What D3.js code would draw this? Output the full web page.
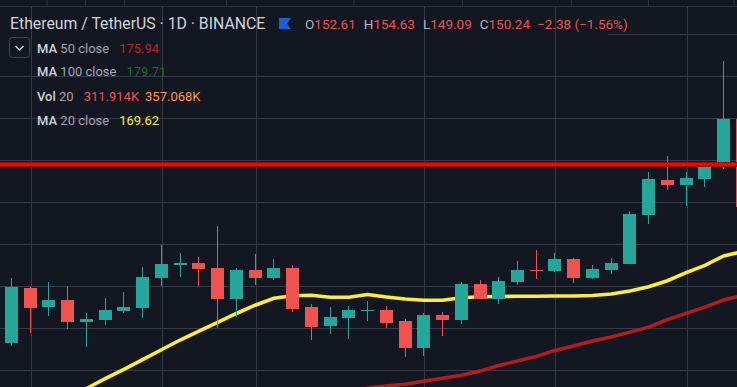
<!DOCTYPE html>
<html><head><meta charset="utf-8">
<script src="https://cdn.jsdelivr.net/npm/d3@7"></script>
<style>html,body{margin:0;padding:0;background:#131722;overflow:hidden}svg{display:block}</style>
</head><body>
<svg id="c" width="737" height="387"></svg>
<script>
// ---- data (ETH/USDT daily candles) ----
const opens  = [130.55,139.67,136.55,137.67,134.05,134.38,135.88,136.38,141.38,143.55,143.83,143.0,137.88,142.67,141.38,143.0,136.5,133.38,134.72,135.88,136.0,134.17,129.72,135.17,134.38,140.33,137.88,140.72,142.72,142.55,144.5,141.33,142.72,143.72,151.88,157.67,156.88,157.88,160.22,167.83];
const highs  = [141.33,139.88,140.67,140.0,135.5,138.0,139.0,143.17,146.83,145.5,144.83,150.0,143.0,145.33,144.5,143.5,137.0,136.5,136.67,137.5,136.67,134.5,135.5,135.67,140.67,141.0,141.5,144.17,146.0,145.5,144.67,143.5,144.67,152.5,159.0,161.67,159.0,160.67,177.5,168.17];
const lows   = [130.05,132.22,135.05,132.88,129.88,133.55,135.55,134.72,140.05,141.55,140.05,133.05,134.78,140.17,141.0,135.72,131.05,132.05,131.22,134.22,133.05,128.22,128.38,131.72,133.72,137.83,137.05,140.22,141.22,142.38,140.55,141.17,142.05,143.72,150.38,156.05,153.38,156.55,159.55,153.0];
const closes = [139.83,136.38,137.67,134.05,134.5,136.0,136.5,141.5,143.72,143.88,142.88,137.88,142.67,141.38,143.0,136.22,133.22,134.83,136.0,136.05,133.88,129.72,135.17,134.38,140.33,137.83,140.83,142.67,142.55,144.5,141.38,142.83,143.83,152.0,157.83,156.88,158.0,160.33,167.83,153.22];
const ma20 = [null,null,null,null,122.92,124.55,126.1,127.73,129.37,131.0,132.48,133.95,135.42,136.8,137.95,138.38,138.45,138.12,138.12,138.58,138.17,137.83,137.62,137.62,138.05,138.22,138.25,138.28,138.3,138.33,138.33,138.42,138.67,139.17,139.87,140.88,142.22,143.45,145.0,145.75];
const ma50 = [null,null,null,null,null,null,null,null,null,null,null,null,null,null,null,null,null,null,122.33,123.0,123.33,123.63,124.13,124.63,125.12,125.83,126.75,127.5,128.28,129.25,130.0,130.83,131.5,132.3,133.15,134.38,135.45,136.48,137.67,138.42];
const levelPrice = 160.25;
const gridPrices = [126,133,140,147,154,161,168,175,182];
const gridBars = [1,8,13,22,29,36];
const titleText = "Ethereum / TetherUS · 1D · BINANCE";
const ohlcLabels = ["O","H","L","C"];
const ohlcValues = ["152.61","154.63","149.09","150.24"];
const changeText = "−2.38 (−1.56%)";
const legendNames = ["50 close","100 close","20","20 close"];
const legendKinds = ["MA","MA","Vol","MA"];
const legendValues = [["175.94"],["179.71"],["311.914K","357.068K"],["169.62"]];
const legendColors = [["#b22a2a"],["#1e6b2a"],["#f05350"],["#ffeb3b"]];

// ---- setup ----
const W = 737, H = 387;
const UP = "#26a69a", DOWN = "#ef5350", GRID = "#363a45", BG = "#131722";
const FONT = "Roboto, 'Noto Sans', sans-serif";
const svg = d3.select("#c");
svg.append("rect").attr("width", W).attr("height", H).attr("fill", BG);

const x = d3.scaleLinear().domain([0, 39]).range([11.5, 742.4]);
const y = d3.scaleLinear().domain([126, 182]).range([370, 34]);
const px = i => Math.floor(x(i)) + 0.5;
const py = v => Math.round(y(v));

svg.append("clipPath").attr("id","clip").append("rect").attr("x",0).attr("y",7).attr("width",W).attr("height",H-7);

// top pane separator
svg.append("line").attr("x1",0).attr("x2",W).attr("y1",6.5).attr("y2",6.5).attr("stroke","#2f333e");
svg.selectAll(".tt").data([47,85.5,124.5,226.5,354,462.5,571.5,648.5,734]).enter().append("line")
  .attr("x1",d=>d).attr("x2",d=>d).attr("y1",0).attr("y2",6).attr("stroke","#2f333e");

const g = svg.append("g").attr("clip-path","url(#clip)");
// grid
g.selectAll(".hg").data(gridPrices).enter().append("line")
  .attr("x1", d => d === 182 ? 608 : 0).attr("x2", W)
  .attr("y1", d => py(d) + 0.5).attr("y2", d => py(d) + 0.5)
  .attr("stroke", GRID).attr("stroke-width", 1);
g.selectAll(".vg").data(gridBars).enter().append("line")
  .attr("x1", d => px(d) + 1).attr("x2", d => px(d) + 1)
  .attr("y1", 7).attr("y2", H).attr("stroke", GRID);

// MA lines
const line = d3.line().defined(d => d != null).x((d, i) => x(i)).y(d => y(d));
g.append("path").datum(ma50).attr("d", line).attr("fill","none").attr("stroke","#b71c1c").attr("stroke-width",3.4);
g.append("path").datum(ma20).attr("d", line).attr("fill","none").attr("stroke","#ffeb3b").attr("stroke-width",3.6);

// candles
const idx = d3.range(opens.length);
const cg = g.selectAll(".c").data(idx).enter().append("g");
cg.append("line")
  .attr("x1", i => px(i)).attr("x2", i => px(i))
  .attr("y1", i => py(highs[i])).attr("y2", i => py(lows[i]))
  .attr("stroke", i => closes[i] >= opens[i] ? UP : DOWN).attr("stroke-width", 1);
cg.append("rect")
  .attr("x", i => px(i) - 6.5)
  .attr("y", i => py(Math.max(opens[i], closes[i])))
  .attr("width", 13)
  .attr("height", i => Math.max(1, py(Math.min(opens[i], closes[i])) - py(Math.max(opens[i], closes[i]))))
  .attr("fill", i => closes[i] >= opens[i] ? UP : DOWN);

// horizontal level line
g.append("line").attr("x1",0).attr("x2",W).attr("y1",y(levelPrice)).attr("y2",y(levelPrice))
  .attr("stroke","#9e0b0b").attr("stroke-width",5);
g.append("line").attr("x1",0).attr("x2",W).attr("y1",y(levelPrice)).attr("y2",y(levelPrice))
  .attr("stroke","#ff0000").attr("stroke-width",3);

// header
svg.append("text").attr("x",10).attr("y",29).attr("font-family",FONT).attr("font-size",15.8)
  .attr("fill","#d1d4dc").text(titleText);
svg.append("path").attr("d","M279,18H291L287,23.5L291,29H279Z").attr("fill","#1f5fd6");
const oh = svg.append("text").attr("x",305).attr("y",29).attr("font-family",FONT).attr("font-size",13.5);
ohlcLabels.forEach((l, k) => {
  oh.append("tspan").attr("dx", k ? 8 : 0).attr("fill","#b2b5be").text(l);
  oh.append("tspan").attr("fill", DOWN).text(ohlcValues[k]);
});
oh.append("tspan").attr("dx",7).attr("fill",DOWN).text(changeText);

// legend button
svg.append("rect").attr("x",9.5).attr("y",37.5).attr("width",20).attr("height",20).attr("rx",3)
  .attr("fill","none").attr("stroke","#434651");
svg.append("path").attr("d","M15.5,46L19.5,50L23.5,46").attr("fill","none").attr("stroke","#d1d4dc").attr("stroke-width",1.4);

// legend rows
const rowY = [52.5, 76, 100.5, 124.5];
legendKinds.forEach((k, r) => {
  const t = svg.append("text").attr("x",37).attr("y",rowY[r]).attr("font-family",FONT).attr("font-size",13);
  t.append("tspan").attr("fill","#d1d4dc").attr("font-weight",500).text(k);
  t.append("tspan").attr("fill","#a3a6af").text(" " + legendNames[r]);
  legendValues[r].forEach((v, j) => {
    t.append("tspan").attr("dx", j ? 6 : 10).attr("fill", r === 2 && j === 1 ? "#ff9850" : legendColors[r][0]).text(v);
  });
});
</script>
</body></html>
